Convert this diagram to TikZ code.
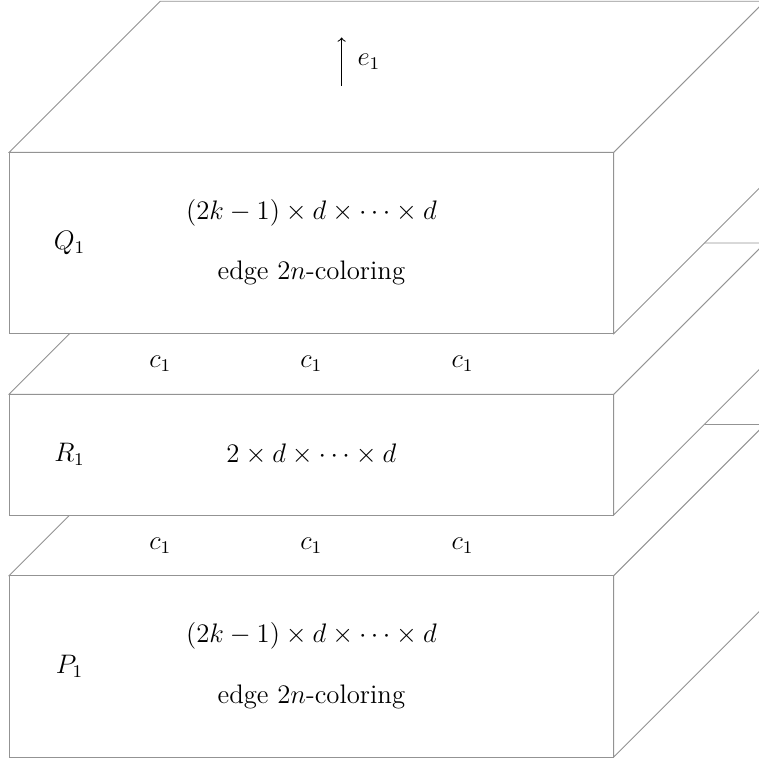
\documentclass[tikz,border=0pt]{standalone}
\begin{document}
\begin{tikzpicture}[
  slab/.style={draw=gray!85, fill=white, line join=miter},
  lbl/.style={inner sep=1pt, font=\large, scale=1.05, transform shape},
  axis/.style={-to, black, line width=0.5pt}
]
\useasboundingbox (-0.15,-0.083) rectangle (12.4,12.52);
\clip (-0.15,-0.083) rectangle (12.4,12.52);
% slabs drawn bottom to top: (y0,y1)
\foreach \ya/\yb in {0/3, 4/6, 7/10}{
  \path[slab] (10,\ya) -- (12.5,\ya+2.5) -- (12.5,\yb+2.5) -- (10,\yb) -- cycle;
  \path[slab] (0,\yb) -- (2.5,\yb+2.5) -- (12.5,\yb+2.5) -- (10,\yb) -- cycle;
  \path[slab] (0,\ya) rectangle (10,\yb);
}
% labels
\node[lbl] (Q) at (1,8.5) {$Q_1$};
\node[lbl] (Qa) at (5,9) {$(2k-1)\times d\times\cdots\times d$};
\node[lbl] (Qb) at (5,8) {edge $2n$-coloring};
\node[lbl] (R) at (1,5) {$R_1$};
\node[lbl] (Ra) at (5,5) {$2\times d\times\cdots\times d$};
\node[lbl] (P) at (1,1.5) {$P_1$};
\node[lbl] (Pa) at (5,2) {$(2k-1)\times d\times\cdots\times d$};
\node[lbl] (Pb) at (5,1) {edge $2n$-coloring};
\node[lbl] (c1) at (2.5,6.5) {$c_1$};
\node[lbl] (c2) at (5,6.5) {$c_1$};
\node[lbl] (c3) at (7.5,6.5) {$c_1$};
\node[lbl] (c4) at (2.5,3.5) {$c_1$};
\node[lbl] (c5) at (5,3.5) {$c_1$};
\node[lbl] (c6) at (7.5,3.5) {$c_1$};
% axis arrow
\coordinate (ea) at (5.5,11.1);
\coordinate (eb) at (5.5,11.9);
\draw[axis] (ea) -- (eb);
\node[lbl, anchor=west] (e) at (5.72,11.5) {$e_1$};
\end{tikzpicture}
\end{document}
